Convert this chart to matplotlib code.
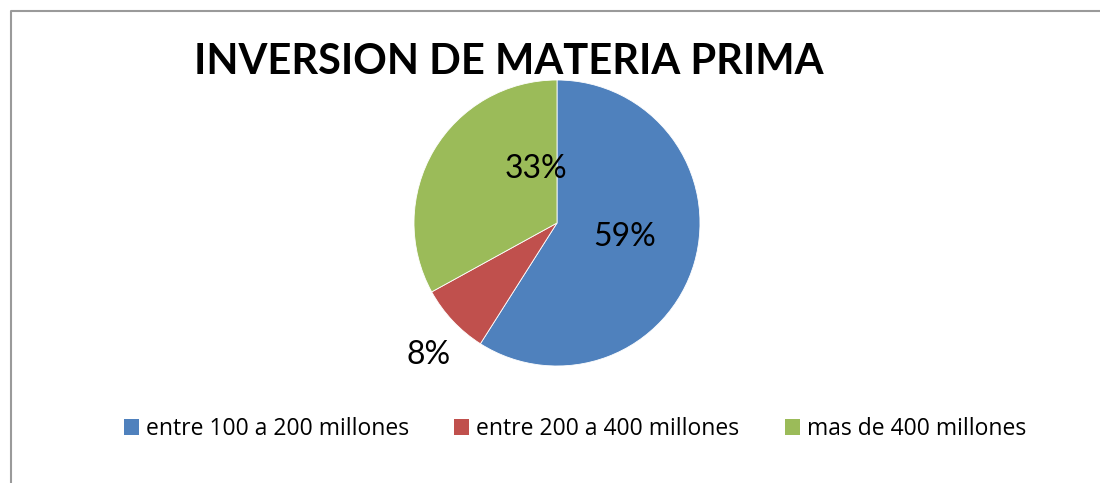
import matplotlib
matplotlib.use("Agg")
import matplotlib.pyplot as plt
from matplotlib.lines import Line2D
from matplotlib.patches import Patch

categorias = ["entre 100 a 200 millones", "entre 200 a 400 millones", "mas de 400 millones"]
valores = [59, 8, 33]
colores = ["#4f81bd", "#c0504d", "#9bbb59"]
etiquetas = ["59%", "8%", "33%"]
# posicion de cada etiqueta (x, y) en radios del pastel
pos_etiquetas = [(0.47, -0.10), (-0.90, -0.92), (-0.15, 0.38)]

plt.rcParams['font.family'] = ['Lato', 'DejaVu Sans']

fig = plt.figure(figsize=(11, 4.83), dpi=100)

# marco gris del grafico (recortado a la derecha y abajo)
fig.add_artist(Line2D([10.5/1100, 10.5/1100, 1.0], [0.0, 1 - 10.5/483, 1 - 10.5/483],
                      transform=fig.transFigure, color="#9a9a9a", lw=1.5))

ax = fig.add_axes([414/1100, 1 - 366/483, 286/1100, 286/483])
wedges, _ = ax.pie(valores, colors=colores, startangle=90, counterclock=False,
                   radius=1, wedgeprops=dict(edgecolor="white", linewidth=0.6))
ax.set_xlim(-1, 1)
ax.set_ylim(-1, 1)
ax.set_aspect("equal")
ax.axis("off")

for txt, (x, y) in zip(etiquetas, pos_etiquetas):
    ax.text(x, y, txt, ha="center", va="center", fontsize=23, color="black", clip_on=False)

fig.text(509/1100, 1 - 62/483, "INVERSION DE MATERIA PRIMA", ha="center", va="center",
         fontsize=30, fontweight="bold")

handles = [Patch(facecolor=c, edgecolor="none") for c in colores]
fig.legend(handles, categorias, loc="center", bbox_to_anchor=(575/1100, 1 - 429/483),
           ncol=3, frameon=False, prop={"family": "Open Sans", "size": 16.5},
           handlelength=0.65, handleheight=0.65, handletextpad=0.3, columnspacing=2.0)

fig.savefig("out.png", dpi=100)
